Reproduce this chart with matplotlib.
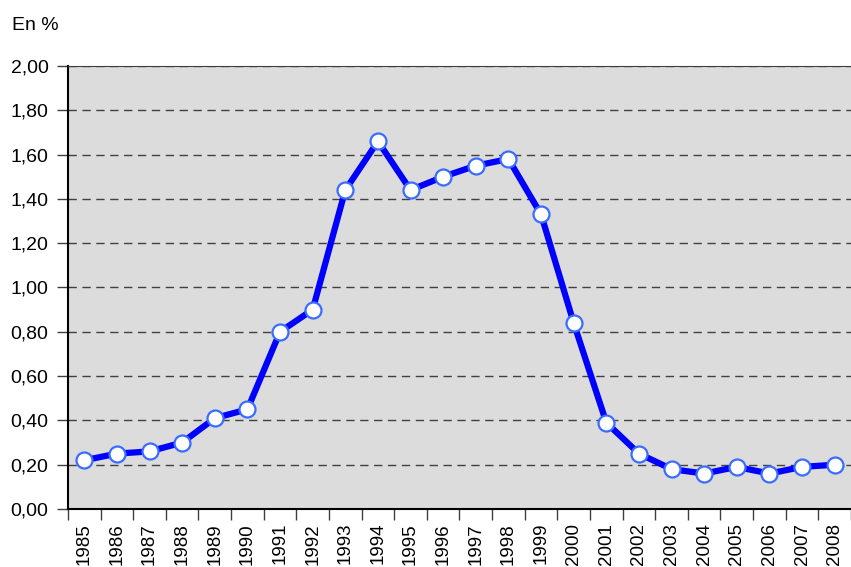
import numpy as np
import matplotlib
matplotlib.use('Agg')
import matplotlib.pyplot as plt

plt.rcParams['font.family'] = ['Liberation Sans Narrow', 'Liberation Sans', 'DejaVu Sans']

years = [str(y) for y in range(1985, 2009)]
values = [0.22, 0.25, 0.26, 0.30, 0.41, 0.45, 0.80, 0.90, 1.44, 1.66, 1.44, 1.50,
          1.55, 1.58, 1.33, 0.84, 0.39, 0.25, 0.18, 0.16, 0.19, 0.16, 0.19, 0.20]
yticks = [0.0, 0.2, 0.4, 0.6, 0.8, 1.0, 1.2, 1.4, 1.6, 1.8, 2.0]
ytick_labels = ['%.2f' % v for v in yticks]
ytick_labels = [s.replace('.', ',') for s in ytick_labels]

fig = plt.figure(figsize=(8.51, 5.67), dpi=100)
ax = fig.add_axes([0.0799, 0.1023, 0.9201, 0.7813])
ax.set_facecolor('#dcdcdc')

x = np.arange(len(years))
ax.plot(x, values, color='#0000ff', lw=4.5, marker='o', ms=11.5,
        markerfacecolor='white', markeredgecolor='#3a6cff', markeredgewidth=1.6, zorder=3)

ax.set_xlim(-0.5, len(years) - 0.5)
ax.set_ylim(0, 2.0)

ax.set_yticks(yticks)
ax.set_yticklabels(ytick_labels, fontsize=14)
for v in yticks[1:]:
    ax.axhline(v, color='#404040', lw=1.0, dashes=(6, 4), zorder=1)

ax.set_xticks(np.arange(len(years) + 1) - 0.5)
ax.set_xticklabels([])
ax.set_xticks(x, minor=True)
ax.set_xticklabels(years, minor=True, rotation=90, fontsize=13.5)
ax.tick_params(axis='x', which='minor', length=0, pad=10)
ax.tick_params(axis='x', which='major', length=8, width=1, color='#404040', direction='out')
ax.tick_params(axis='y', length=8, width=1, color='#404040', pad=6)

ax.spines['right'].set_visible(False)
ax.spines['top'].set_color('#404040')
ax.spines['left'].set_linewidth(1.5)
ax.spines['bottom'].set_linewidth(1.5)

fig.text(0.014, 0.955, 'En %', fontsize=14, va='center', ha='left')

fig.savefig('out.png', dpi=100)
